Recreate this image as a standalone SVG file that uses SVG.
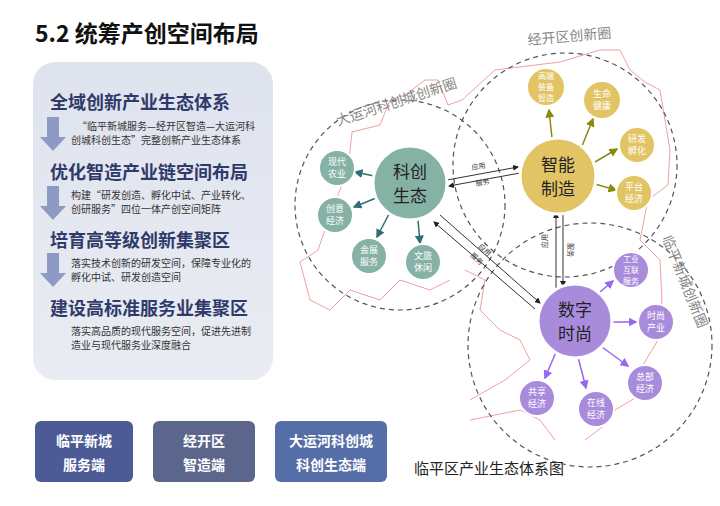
<svg xmlns="http://www.w3.org/2000/svg" width="720" height="506" viewBox="0 0 720 506">
<defs>
<style>
text{font-family:"Noto Sans CJK SC","Liberation Sans",sans-serif}
.h{font-size:18px;font-weight:bold;fill:#2f3a6a}
.d{font-size:10px;fill:#333}
.btn{font-size:14px;font-weight:bold;fill:#fff;text-anchor:middle}
.ring{fill:none;stroke:#555;stroke-width:1.2;stroke-dasharray:5 4}
.rl{font-size:14px;fill:#888}
.hub{stroke:#fff;stroke-width:3}
.sub{stroke:#fff;stroke-width:2}
.ht{font-size:17px;fill:#222;text-anchor:middle}
.st{font-size:9px;fill:#fff;text-anchor:middle}
.s3{font-size:8px}
.lk{stroke:#333;stroke-width:1;fill:none}
.sm{font-size:7px;fill:#333}
</style>
<marker id="ak" markerWidth="6" markerHeight="6" refX="5" refY="3" orient="auto"><path d="M0,0L6,3L0,6z" fill="#222"/></marker>
<marker id="at" markerWidth="6" markerHeight="6" refX="5" refY="3" orient="auto"><path d="M0,0L6,3L0,6z" fill="#2e6f78"/></marker>
<marker id="ag" markerWidth="6" markerHeight="6" refX="5" refY="3" orient="auto"><path d="M0,0L6,3L0,6z" fill="#8a8a10"/></marker>
<marker id="ap" markerWidth="6" markerHeight="6" refX="5" refY="3" orient="auto"><path d="M0,0L6,3L0,6z" fill="#9966ee"/></marker>
<linearGradient id="pg" x1="0" y1="0" x2="0" y2="1"><stop offset="0" stop-color="#dfe3ee"/><stop offset="1" stop-color="#e9ecf2"/></linearGradient>
</defs>
<rect width="720" height="506" fill="#fff"/>
<text x="35" y="42" font-size="23" font-weight="bold" fill="#111">5.2 统筹产创空间布局</text>
<rect x="33" y="62" width="240" height="318" rx="22" fill="url(#pg)"/>
<g fill="#8d9bc4">
<path d="M47,117h12v20h7l-13,14l-13,-14h7z"/>
<path d="M47,186h12v20h7l-13,14l-13,-14h7z"/>
<path d="M47,253h12v20h7l-13,14l-13,-14h7z"/>
</g>
<text class="h" x="50" y="109">全域创新产业生态体系</text>
<text class="d" x="77" y="130">“临平新城服务—经开区智造—大运河科</text>
<text class="d" x="71" y="144">创城科创生态”完整创新产业生态体系</text>
<text class="h" x="50" y="179">优化智造产业链空间布局</text>
<text class="d" x="71" y="199">构建“研发创造、孵化中试、产业转化、</text>
<text class="d" x="71" y="213">创研服务”四位一体产创空间矩阵</text>
<text class="h" x="50" y="247">培育高等级创新集聚区</text>
<text class="d" x="71" y="267">落实技术创新的研发空间，保障专业化的</text>
<text class="d" x="71" y="281">孵化中试、研发创造空间</text>
<text class="h" x="50" y="315">建设高标准服务业集聚区</text>
<text class="d" x="71" y="335">落实高品质的现代服务空间，促进先进制</text>
<text class="d" x="71" y="349">造业与现代服务业深度融合</text>
<g id="b1"><rect x="35" y="421" width="98" height="61" rx="6" fill="#4c5b96"/><text class="btn" x="84" y="446">临平新城</text><text class="btn" x="84" y="470">服务端</text></g>
<g id="b2"><rect x="153" y="421" width="102" height="61" rx="6" fill="#5c668d"/><text class="btn" x="204" y="446">经开区</text><text class="btn" x="204" y="470">智造端</text></g>
<g id="b3"><rect x="275" y="421" width="112" height="61" rx="6" fill="#556ea8"/><text class="btn" x="331" y="446">大运河科创城</text><text class="btn" x="331" y="470">科创生态端</text></g>
<text x="414" y="474" font-size="15" fill="#222">临平区产业生态体系图</text>
<path d="M300,262 L318,250 L330,215 L348,170 L352,132 L380,125 L390,100 L405,95 L425,80 L438,80 L448,105 L462,100 L495,70 L560,62 L600,50 L620,50 L630,70 L645,82 L660,90 L665,120 L670,150 L668,185 L648,200 L640,240 L660,260 L662,300 L658,340 L640,370 L640,395 L615,410 L605,425 L585,440 M470,420 L520,410 L540,420 L555,440 M465,270 L485,280 L480,310 L500,330 L520,340 L530,360 L505,380 L470,400 M300,262 L310,300 L330,310 L350,290 L380,300 L400,280 L430,290 L450,280" fill="none" stroke="#e88" stroke-width="0.8"/>
<g id="rings">
<circle class="ring" cx="400" cy="205" r="105"/>
<circle class="ring" cx="565" cy="165" r="112"/>
<circle class="ring" cx="590" cy="345" r="122"/>
<text class="rl" x="338" y="126" transform="rotate(-18 338 126)">大运河科创城创新圈</text>
<text class="rl" x="528" y="45" transform="rotate(-5 528 45)">经开区创新圈</text>
<text class="rl" x="662" y="238" transform="rotate(68 662 238)">临平新城创新圈</text>
</g>
<g id="connectors">
<line class="lk" x1="447" y1="180" x2="518" y2="167" marker-end="url(#ak)"/>
<line class="lk" x1="520" y1="173" x2="449" y2="186" marker-end="url(#ak)"/>
<text class="sm" x="472" y="170" transform="rotate(-10 472 170)">应用</text>
<text class="sm" x="476" y="186" transform="rotate(-10 476 186)">服务</text>
<line class="lk" x1="556" y1="288" x2="556" y2="213" marker-end="url(#ak)"/>
<line class="lk" x1="563" y1="214" x2="563" y2="286" marker-end="url(#ak)"/>
<text class="sm" x="547" y="248" transform="rotate(-90 547 248)">应用</text>
<text class="sm" x="568" y="243" transform="rotate(90 568 243)">服务</text>
<line class="lk" x1="440" y1="215" x2="540" y2="303" marker-end="url(#ak)"/>
<line class="lk" x1="535" y1="309" x2="434" y2="222" marker-end="url(#ak)"/>
<text class="sm" x="478" y="247" transform="rotate(42 478 247)">应用</text>
<text class="sm" x="470" y="256" transform="rotate(42 470 256)">服务</text>
<g stroke="#2e6f78" stroke-width="1.5" marker-end="url(#at)">
<line x1="374" y1="176" x2="355" y2="172"/><line x1="376" y1="198" x2="354" y2="207"/>
<line x1="389" y1="214" x2="377" y2="237"/><line x1="418" y1="220" x2="420" y2="243"/>
</g>
<g stroke="#8a8a10" stroke-width="1.5" marker-end="url(#ag)">
<line x1="552" y1="138" x2="549" y2="110"/><line x1="582" y1="146" x2="593" y2="119"/>
<line x1="595" y1="162" x2="617" y2="149"/><line x1="595" y1="184" x2="616" y2="190"/>
</g>
<g stroke="#9966ee" stroke-width="1.5" marker-end="url(#ap)">
<line x1="600" y1="292" x2="613" y2="281"/><line x1="612" y1="322" x2="636" y2="322"/>
<line x1="602" y1="347" x2="628" y2="366"/><line x1="556" y1="352" x2="545" y2="378"/>
<line x1="578" y1="357" x2="586" y2="388"/>
</g>
</g>
<g id="kc"><circle class="hub" cx="410" cy="183" r="37" fill="#86b1a5"/><text class="ht" x="410" y="178">科创</text><text class="ht" x="410" y="202">生态</text></g>
<g id="kc1"><circle class="sub" cx="337" cy="168" r="18" fill="#86b1a5"/><text class="st" x="337" y="165">现代</text><text class="st" x="337" y="177">农业</text></g>
<g id="kc2"><circle class="sub" cx="335" cy="215" r="18" fill="#86b1a5"/><text class="st" x="335" y="212">创意</text><text class="st" x="335" y="224">经济</text></g>
<g id="kc3"><circle class="sub" cx="369" cy="256" r="18" fill="#86b1a5"/><text class="st" x="369" y="253">会展</text><text class="st" x="369" y="265">服务</text></g>
<g id="kc4"><circle class="sub" cx="423" cy="262" r="18" fill="#86b1a5"/><text class="st" x="423" y="259">文旅</text><text class="st" x="423" y="271">休闲</text></g>
<g id="zn"><circle class="hub" cx="558" cy="176" r="38" fill="#e3c465"/><text class="ht" x="558" y="171">智能</text><text class="ht" x="558" y="195">制造</text></g>
<g id="zn1"><circle class="sub" cx="546" cy="87" r="19" fill="#e3c465"/><text class="st s3" x="546" y="79">高端</text><text class="st s3" x="546" y="90">装备</text><text class="st s3" x="546" y="101">智造</text></g>
<g id="zn2"><circle class="sub" cx="602" cy="100" r="19" fill="#e3c465"/><text class="st" x="602" y="97">生命</text><text class="st" x="602" y="109">健康</text></g>
<g id="zn3"><circle class="sub" cx="637" cy="145" r="18" fill="#e3c465"/><text class="st" x="637" y="142">研发</text><text class="st" x="637" y="154">孵化</text></g>
<g id="zn4"><circle class="sub" cx="634" cy="193" r="18" fill="#e3c465"/><text class="st" x="634" y="190">平台</text><text class="st" x="634" y="202">经济</text></g>
<g id="sz"><circle class="hub" cx="575" cy="321" r="37" fill="#a98bdc"/><text class="ht" x="575" y="316">数字</text><text class="ht" x="575" y="340">时尚</text></g>
<g id="sz1"><circle class="sub" cx="631" cy="270" r="18" fill="#a98bdc"/><text class="st s3" x="631" y="262">工业</text><text class="st s3" x="631" y="273">互联</text><text class="st s3" x="631" y="284">服务</text></g>
<g id="sz2"><circle class="sub" cx="656" cy="322" r="18" fill="#a98bdc"/><text class="st" x="656" y="319">时尚</text><text class="st" x="656" y="331">产业</text></g>
<g id="sz3"><circle class="sub" cx="645" cy="383" r="18" fill="#a98bdc"/><text class="st" x="645" y="380">总部</text><text class="st" x="645" y="392">经济</text></g>
<g id="sz4"><circle class="sub" cx="537" cy="398" r="18" fill="#a98bdc"/><text class="st" x="537" y="395">共享</text><text class="st" x="537" y="407">经济</text></g>
<g id="sz5"><circle class="sub" cx="596" cy="409" r="18" fill="#a98bdc"/><text class="st" x="596" y="406">在线</text><text class="st" x="596" y="418">经济</text></g>
</svg>
